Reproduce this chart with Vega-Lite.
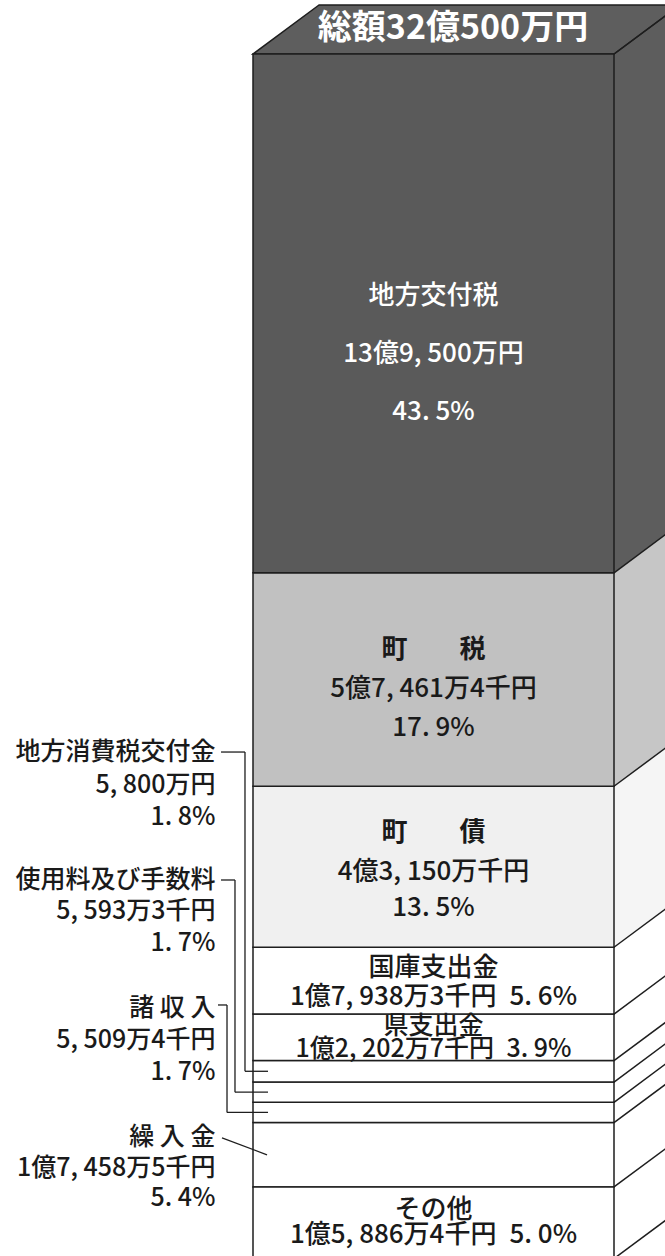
{
  "$schema": "https://vega.github.io/schema/vega-lite/v6.json",
  "width": 665,
  "height": 1256,
  "padding": 0,
  "autosize": {"type": "none"},
  "background": "#ffffff",
  "config": {"view": {"stroke": null}, "font": "Noto Sans CJK JP"},
  "data": {
    "values": [
      {"name": "その他", "title": "その他", "amount": "1億5, 886万4千円", "share": "5. 0%", "pct": 5.0, "order": 1},
      {"name": "繰入金", "title": "繰 入 金", "amount": "1億7, 458万5千円", "share": "5. 4%", "pct": 5.4, "order": 2},
      {"name": "諸収入", "title": "諸 収 入", "amount": "5, 509万4千円", "share": "1. 7%", "pct": 1.7, "order": 3},
      {"name": "使用料及び手数料", "title": "使用料及び手数料", "amount": "5, 593万3千円", "share": "1. 7%", "pct": 1.7, "order": 4},
      {"name": "地方消費税交付金", "title": "地方消費税交付金", "amount": "5, 800万円", "share": "1. 8%", "pct": 1.8, "order": 5},
      {"name": "県支出金", "title": "県支出金", "amount": "1億2, 202万7千円", "share": "3. 9%", "pct": 3.9, "order": 6},
      {"name": "国庫支出金", "title": "国庫支出金", "amount": "1億7, 938万3千円", "share": "5. 6%", "pct": 5.6, "order": 7},
      {"name": "町債", "title": "町　　債", "amount": "4億3, 150万千円", "share": "13. 5%", "pct": 13.5, "order": 8},
      {"name": "町税", "title": "町　　税", "amount": "5億7, 461万4千円", "share": "17. 9%", "pct": 17.9, "order": 9},
      {"name": "地方交付税", "title": "地方交付税", "amount": "13億9, 500万円", "share": "43. 5%", "pct": 43.5, "order": 10}
    ]
  },
  "transform": [
    {"stack": "pct", "groupby": [], "sort": [{"field": "order", "order": "ascending"}], "as": ["lo", "hi"]},
    {"calculate": "(datum.lo + datum.hi) / 2", "as": "mid"}
  ],
  "layer": [
    {
      "transform": [
        {"filter": "datum.order >= 8"},
        {"calculate": "[0, 1]", "as": "ts"},
        {"flatten": ["ts"], "as": ["t"]},
        {"calculate": "100 + 18.28 * datum.t", "as": "sx"},
        {"calculate": "datum.lo + 4.109 * datum.t", "as": "sy"},
        {"calculate": "datum.hi + 4.109 * datum.t", "as": "sy2"}
      ],
      "mark": {"type": "area", "orient": "vertical", "clip": true, "strokeWidth": 0},
      "encoding": {
        "x": {"field": "sx", "type": "quantitative", "scale": {"domain": [-70.083, 114.127], "nice": false, "zero": false}, "axis": null},
        "y": {"field": "sy", "type": "quantitative", "stack": null, "scale": {"domain": [-0.788, 104.528], "nice": false, "zero": false}, "axis": null},
        "y2": {"field": "sy2"},
        "detail": {"field": "name", "type": "nominal"},
        "fill": {"condition": [
          {"test": "datum.name === '地方交付税'", "value": "#5d5d5d"},
          {"test": "datum.name === '町税'", "value": "#c6c6c6"},
          {"test": "datum.name === '町債'", "value": "#f5f5f5"}
        ], "value": "#ffffff"}
      }
    },
    {
      "transform": [
        {"filter": "datum.order === 10"},
        {"calculate": "[0, 1]", "as": "ts"},
        {"flatten": ["ts"], "as": ["t"]},
        {"calculate": "18.28 * datum.t", "as": "tx"},
        {"calculate": "100 + 18.28 * datum.t", "as": "tx2"},
        {"calculate": "datum.hi + 4.109 * datum.t", "as": "ty"}
      ],
      "mark": {"type": "area", "orient": "horizontal", "fill": "#5e5e5e", "stroke": "#1e1e1e", "strokeWidth": 1.5, "clip": true},
      "encoding": {
        "y": {"field": "ty", "type": "quantitative", "scale": {"domain": [-0.788, 104.528], "nice": false, "zero": false}, "axis": null},
        "x": {"field": "tx", "type": "quantitative", "stack": null, "scale": {"domain": [-70.083, 114.127], "nice": false, "zero": false}, "axis": null},
        "x2": {"field": "tx2"}
      }
    },
    {
      "transform": [{"filter": "datum.order > 1"}],
      "mark": {"type": "rect", "stroke": "#1e1e1e", "strokeWidth": 1.5},
      "encoding": {
        "x": {"datum": 0, "type": "quantitative", "scale": {"domain": [-70.083, 114.127], "nice": false, "zero": false}, "axis": null},
        "x2": {"datum": 100},
        "y": {"field": "lo", "type": "quantitative", "stack": null, "scale": {"domain": [-0.788, 104.528], "nice": false, "zero": false}, "axis": null},
        "y2": {"field": "hi"},
        "fill": {"condition": [
          {"test": "datum.name === '地方交付税'", "value": "#5a5a5a"},
          {"test": "datum.name === '町税'", "value": "#c1c1c1"},
          {"test": "datum.name === '町債'", "value": "#f0f0f0"}
        ], "value": "#ffffff"}
      }
    },
    {
      "transform": [{"filter": "datum.order === 1"}],
      "mark": {"type": "rect", "stroke": "#1e1e1e", "strokeWidth": 1.5, "fill": "#ffffff", "yOffset": 12},
      "encoding": {
        "x": {"datum": 0, "type": "quantitative", "scale": {"domain": [-70.083, 114.127], "nice": false, "zero": false}, "axis": null},
        "x2": {"datum": 100},
        "y": {"field": "lo", "type": "quantitative", "stack": null, "scale": {"domain": [-0.788, 104.528], "nice": false, "zero": false}, "axis": null},
        "y2": {"field": "hi"}
      }
    },
    {
      "mark": {"type": "rule", "stroke": "#1e1e1e", "strokeWidth": 1.5, "x2Offset": 66, "y2Offset": -49, "clip": true},
      "encoding": {
        "x": {"datum": 100, "type": "quantitative", "scale": {"domain": [-70.083, 114.127], "nice": false, "zero": false}, "axis": null},
        "x2": {"datum": 100},
        "y": {"field": "hi", "type": "quantitative", "stack": null, "scale": {"domain": [-0.788, 104.528], "nice": false, "zero": false}, "axis": null},
        "y2": {"field": "hi"}
      }
    },
    {
      "transform": [{"filter": "datum.order === 1"}],
      "mark": {"type": "rule", "stroke": "#1e1e1e", "strokeWidth": 1.5, "yOffset": 12, "x2Offset": 66, "y2Offset": -37, "clip": true},
      "encoding": {
        "x": {"datum": 100, "type": "quantitative", "scale": {"domain": [-70.083, 114.127], "nice": false, "zero": false}, "axis": null},
        "x2": {"datum": 100},
        "y": {"field": "lo", "type": "quantitative", "stack": null, "scale": {"domain": [-0.788, 104.528], "nice": false, "zero": false}, "axis": null},
        "y2": {"field": "lo"}
      }
    },
    {
      "transform": [{"filter": "datum.order === 10"}],
      "mark": {"type": "text", "text": "総額32億500万円", "fontSize": 34, "fontWeight": "bold", "fill": "#ffffff", "align": "center", "baseline": "middle"},
      "encoding": {
        "x": {"datum": 55.4, "type": "quantitative", "scale": {"domain": [-70.083, 114.127], "nice": false, "zero": false}, "axis": null},
        "y": {"datum": 102.1, "type": "quantitative", "scale": {"domain": [-0.788, 104.528], "nice": false, "zero": false}, "axis": null}
      }
    },
    {
      "transform": [{"filter": "datum.order === 10"}, {"calculate": "datum.title + '\\n' + datum.amount + '\\n' + datum.share", "as": "txt"}],
      "mark": {"type": "text", "fontSize": 26, "fontWeight": 500, "fill": "#ffffff", "align": "center", "baseline": "middle", "lineBreak": "\n", "lineHeight": 58, "dy": -17.4},
      "encoding": {
        "x": {"datum": 50, "type": "quantitative", "scale": {"domain": [-70.083, 114.127], "nice": false, "zero": false}, "axis": null},
        "y": {"field": "mid", "type": "quantitative", "scale": {"domain": [-0.788, 104.528], "nice": false, "zero": false}, "axis": null},
        "text": {"field": "txt", "type": "nominal"}
      }
    },
    {
      "transform": [{"filter": "datum.order === 9"}],
      "mark": {"type": "text", "fontSize": 26, "fontWeight": "bold", "fill": "#1a1a1a", "align": "center", "baseline": "middle", "dy": -29.6},
      "encoding": {
        "x": {"datum": 50, "type": "quantitative", "scale": {"domain": [-70.083, 114.127], "nice": false, "zero": false}, "axis": null},
        "y": {"field": "mid", "type": "quantitative", "scale": {"domain": [-0.788, 104.528], "nice": false, "zero": false}, "axis": null},
        "text": {"field": "title", "type": "nominal"}
      }
    },
    {
      "transform": [{"filter": "datum.order === 8"}],
      "mark": {"type": "text", "fontSize": 26, "fontWeight": "bold", "fill": "#1a1a1a", "align": "center", "baseline": "middle", "dy": -33.8},
      "encoding": {
        "x": {"datum": 50, "type": "quantitative", "scale": {"domain": [-70.083, 114.127], "nice": false, "zero": false}, "axis": null},
        "y": {"field": "mid", "type": "quantitative", "scale": {"domain": [-0.788, 104.528], "nice": false, "zero": false}, "axis": null},
        "text": {"field": "title", "type": "nominal"}
      }
    },
    {
      "transform": [{"filter": "datum.order === 9"}, {"calculate": "datum.amount + '\\n' + datum.share", "as": "txt"}],
      "mark": {"type": "text", "fontSize": 26, "fontWeight": 500, "fill": "#1a1a1a", "align": "center", "baseline": "middle", "lineBreak": "\n", "lineHeight": 39, "dy": 9.4},
      "encoding": {
        "x": {"datum": 50, "type": "quantitative", "scale": {"domain": [-70.083, 114.127], "nice": false, "zero": false}, "axis": null},
        "y": {"field": "mid", "type": "quantitative", "scale": {"domain": [-0.788, 104.528], "nice": false, "zero": false}, "axis": null},
        "text": {"field": "txt", "type": "nominal"}
      }
    },
    {
      "transform": [{"filter": "datum.order === 8"}, {"calculate": "datum.amount + '\\n' + datum.share", "as": "txt"}],
      "mark": {"type": "text", "fontSize": 26, "fontWeight": 500, "fill": "#1a1a1a", "align": "center", "baseline": "middle", "lineBreak": "\n", "lineHeight": 36, "dy": 5.2},
      "encoding": {
        "x": {"datum": 50, "type": "quantitative", "scale": {"domain": [-70.083, 114.127], "nice": false, "zero": false}, "axis": null},
        "y": {"field": "mid", "type": "quantitative", "scale": {"domain": [-0.788, 104.528], "nice": false, "zero": false}, "axis": null},
        "text": {"field": "txt", "type": "nominal"}
      }
    },
    {
      "transform": [{"filter": "datum.order === 7"}, {"calculate": "datum.title + '\\n' + datum.amount + '\u2002' + datum.share", "as": "txt"}],
      "mark": {"type": "text", "fontSize": 26, "fontWeight": 500, "fill": "#1a1a1a", "align": "center", "baseline": "middle", "lineBreak": "\n", "lineHeight": 29, "dy": -12.7},
      "encoding": {
        "x": {"datum": 50, "type": "quantitative", "scale": {"domain": [-70.083, 114.127], "nice": false, "zero": false}, "axis": null},
        "y": {"field": "mid", "type": "quantitative", "scale": {"domain": [-0.788, 104.528], "nice": false, "zero": false}, "axis": null},
        "text": {"field": "txt", "type": "nominal"}
      }
    },
    {
      "transform": [{"filter": "datum.order === 6"}, {"calculate": "datum.title + '\\n' + datum.amount + '\u2002' + datum.share", "as": "txt"}],
      "mark": {"type": "text", "fontSize": 25, "fontWeight": 500, "fill": "#1a1a1a", "align": "center", "baseline": "middle", "lineBreak": "\n", "lineHeight": 23, "dy": -11.4},
      "encoding": {
        "x": {"datum": 50, "type": "quantitative", "scale": {"domain": [-70.083, 114.127], "nice": false, "zero": false}, "axis": null},
        "y": {"field": "mid", "type": "quantitative", "scale": {"domain": [-0.788, 104.528], "nice": false, "zero": false}, "axis": null},
        "text": {"field": "txt", "type": "nominal"}
      }
    },
    {
      "transform": [{"filter": "datum.order === 1"}, {"calculate": "datum.title + '\\n' + datum.amount + '\u2002' + datum.share", "as": "txt"}],
      "mark": {"type": "text", "fontSize": 26, "fontWeight": 500, "fill": "#1a1a1a", "align": "center", "baseline": "middle", "lineBreak": "\n", "lineHeight": 25, "dy": -6.8},
      "encoding": {
        "x": {"datum": 50, "type": "quantitative", "scale": {"domain": [-70.083, 114.127], "nice": false, "zero": false}, "axis": null},
        "y": {"field": "mid", "type": "quantitative", "scale": {"domain": [-0.788, 104.528], "nice": false, "zero": false}, "axis": null},
        "text": {"field": "txt", "type": "nominal"}
      }
    },
    {
      "transform": [{"filter": "datum.order === 5"}, {"calculate": "datum.title + '\\n' + datum.amount + '\\n' + datum.share", "as": "txt"}],
      "mark": {"type": "text", "fontSize": 25, "fontWeight": 500, "fill": "#1a1a1a", "align": "right", "baseline": "middle", "lineBreak": "\n", "lineHeight": 32.5},
      "encoding": {
        "x": {"datum": -10.4, "type": "quantitative", "scale": {"domain": [-70.083, 114.127], "nice": false, "zero": false}, "axis": null},
        "y": {"datum": 41.47, "type": "quantitative", "scale": {"domain": [-0.788, 104.528], "nice": false, "zero": false}, "axis": null},
        "text": {"field": "txt", "type": "nominal"}
      }
    },
    {
      "transform": [{"filter": "datum.order === 4"}, {"calculate": "datum.title + '\\n' + datum.amount + '\\n' + datum.share", "as": "txt"}],
      "mark": {"type": "text", "fontSize": 25, "fontWeight": 500, "fill": "#1a1a1a", "align": "right", "baseline": "middle", "lineBreak": "\n", "lineHeight": 31.5},
      "encoding": {
        "x": {"datum": -10.4, "type": "quantitative", "scale": {"domain": [-70.083, 114.127], "nice": false, "zero": false}, "axis": null},
        "y": {"datum": 30.74, "type": "quantitative", "scale": {"domain": [-0.788, 104.528], "nice": false, "zero": false}, "axis": null},
        "text": {"field": "txt", "type": "nominal"}
      }
    },
    {
      "transform": [{"filter": "datum.order === 3"}, {"calculate": "datum.title + '\\n' + datum.amount + '\\n' + datum.share", "as": "txt"}],
      "mark": {"type": "text", "fontSize": 25, "fontWeight": 500, "fill": "#1a1a1a", "align": "right", "baseline": "middle", "lineBreak": "\n", "lineHeight": 32},
      "encoding": {
        "x": {"datum": -10.4, "type": "quantitative", "scale": {"domain": [-70.083, 114.127], "nice": false, "zero": false}, "axis": null},
        "y": {"datum": 20.01, "type": "quantitative", "scale": {"domain": [-0.788, 104.528], "nice": false, "zero": false}, "axis": null},
        "text": {"field": "txt", "type": "nominal"}
      }
    },
    {
      "transform": [{"filter": "datum.order === 2"}, {"calculate": "datum.title + '\\n' + datum.amount + '\\n' + datum.share", "as": "txt"}],
      "mark": {"type": "text", "fontSize": 25, "fontWeight": 500, "fill": "#1a1a1a", "align": "right", "baseline": "middle", "lineBreak": "\n", "lineHeight": 30.5},
      "encoding": {
        "x": {"datum": -10.4, "type": "quantitative", "scale": {"domain": [-70.083, 114.127], "nice": false, "zero": false}, "axis": null},
        "y": {"datum": 9.19, "type": "quantitative", "scale": {"domain": [-0.788, 104.528], "nice": false, "zero": false}, "axis": null},
        "text": {"field": "txt", "type": "nominal"}
      }
    },
    {
      "transform": [{"filter": "datum.order === 5"}],
      "mark": {"type": "rule", "stroke": "#1e1e1e", "strokeWidth": 1.3},
      "encoding": {
        "x": {"datum": -8.86, "type": "quantitative", "scale": {"domain": [-70.083, 114.127], "nice": false, "zero": false}, "axis": null},
        "x2": {"datum": -2.22},
        "y": {"datum": 41.47, "type": "quantitative", "scale": {"domain": [-0.788, 104.528], "nice": false, "zero": false}, "axis": null}
      }
    },
    {
      "transform": [{"filter": "datum.order === 5"}],
      "mark": {"type": "rule", "stroke": "#1e1e1e", "strokeWidth": 1.3},
      "encoding": {
        "x": {"datum": -2.22, "type": "quantitative", "scale": {"domain": [-70.083, 114.127], "nice": false, "zero": false}, "axis": null},
        "y": {"field": "mid", "type": "quantitative", "scale": {"domain": [-0.788, 104.528], "nice": false, "zero": false}, "axis": null},
        "y2": {"datum": 41.47}
      }
    },
    {
      "transform": [{"filter": "datum.order === 5"}],
      "mark": {"type": "rule", "stroke": "#1e1e1e", "strokeWidth": 1.3},
      "encoding": {
        "x": {"datum": -2.22, "type": "quantitative", "scale": {"domain": [-70.083, 114.127], "nice": false, "zero": false}, "axis": null},
        "x2": {"datum": 4.16},
        "y": {"field": "mid", "type": "quantitative", "scale": {"domain": [-0.788, 104.528], "nice": false, "zero": false}, "axis": null}
      }
    },
    {
      "transform": [{"filter": "datum.order === 4"}],
      "mark": {"type": "rule", "stroke": "#1e1e1e", "strokeWidth": 1.3},
      "encoding": {
        "x": {"datum": -8.86, "type": "quantitative", "scale": {"domain": [-70.083, 114.127], "nice": false, "zero": false}, "axis": null},
        "x2": {"datum": -4.99},
        "y": {"datum": 30.74, "type": "quantitative", "scale": {"domain": [-0.788, 104.528], "nice": false, "zero": false}, "axis": null}
      }
    },
    {
      "transform": [{"filter": "datum.order === 4"}],
      "mark": {"type": "rule", "stroke": "#1e1e1e", "strokeWidth": 1.3},
      "encoding": {
        "x": {"datum": -4.99, "type": "quantitative", "scale": {"domain": [-70.083, 114.127], "nice": false, "zero": false}, "axis": null},
        "y": {"field": "mid", "type": "quantitative", "scale": {"domain": [-0.788, 104.528], "nice": false, "zero": false}, "axis": null},
        "y2": {"datum": 30.74}
      }
    },
    {
      "transform": [{"filter": "datum.order === 4"}],
      "mark": {"type": "rule", "stroke": "#1e1e1e", "strokeWidth": 1.3},
      "encoding": {
        "x": {"datum": -4.99, "type": "quantitative", "scale": {"domain": [-70.083, 114.127], "nice": false, "zero": false}, "axis": null},
        "x2": {"datum": 4.16},
        "y": {"field": "mid", "type": "quantitative", "scale": {"domain": [-0.788, 104.528], "nice": false, "zero": false}, "axis": null}
      }
    },
    {
      "transform": [{"filter": "datum.order === 3"}],
      "mark": {"type": "rule", "stroke": "#1e1e1e", "strokeWidth": 1.3},
      "encoding": {
        "x": {"datum": -9.7, "type": "quantitative", "scale": {"domain": [-70.083, 114.127], "nice": false, "zero": false}, "axis": null},
        "x2": {"datum": -7.2},
        "y": {"datum": 20.26, "type": "quantitative", "scale": {"domain": [-0.788, 104.528], "nice": false, "zero": false}, "axis": null}
      }
    },
    {
      "transform": [{"filter": "datum.order === 3"}],
      "mark": {"type": "rule", "stroke": "#1e1e1e", "strokeWidth": 1.3},
      "encoding": {
        "x": {"datum": -7.2, "type": "quantitative", "scale": {"domain": [-70.083, 114.127], "nice": false, "zero": false}, "axis": null},
        "y": {"field": "mid", "type": "quantitative", "scale": {"domain": [-0.788, 104.528], "nice": false, "zero": false}, "axis": null},
        "y2": {"datum": 20.26}
      }
    },
    {
      "transform": [{"filter": "datum.order === 3"}],
      "mark": {"type": "rule", "stroke": "#1e1e1e", "strokeWidth": 1.3},
      "encoding": {
        "x": {"datum": -7.2, "type": "quantitative", "scale": {"domain": [-70.083, 114.127], "nice": false, "zero": false}, "axis": null},
        "x2": {"datum": 4.16},
        "y": {"field": "mid", "type": "quantitative", "scale": {"domain": [-0.788, 104.528], "nice": false, "zero": false}, "axis": null}
      }
    },
    {
      "transform": [{"filter": "datum.order === 2"}],
      "mark": {"type": "rule", "stroke": "#1e1e1e", "strokeWidth": 1.3},
      "encoding": {
        "x": {"datum": 3.88, "type": "quantitative", "scale": {"domain": [-70.083, 114.127], "nice": false, "zero": false}, "axis": null},
        "x2": {"datum": -8.59},
        "y": {"field": "mid", "type": "quantitative", "scale": {"domain": [-0.788, 104.528], "nice": false, "zero": false}, "axis": null},
        "y2": {"datum": 9.11}
      }
    }
  ]
}
